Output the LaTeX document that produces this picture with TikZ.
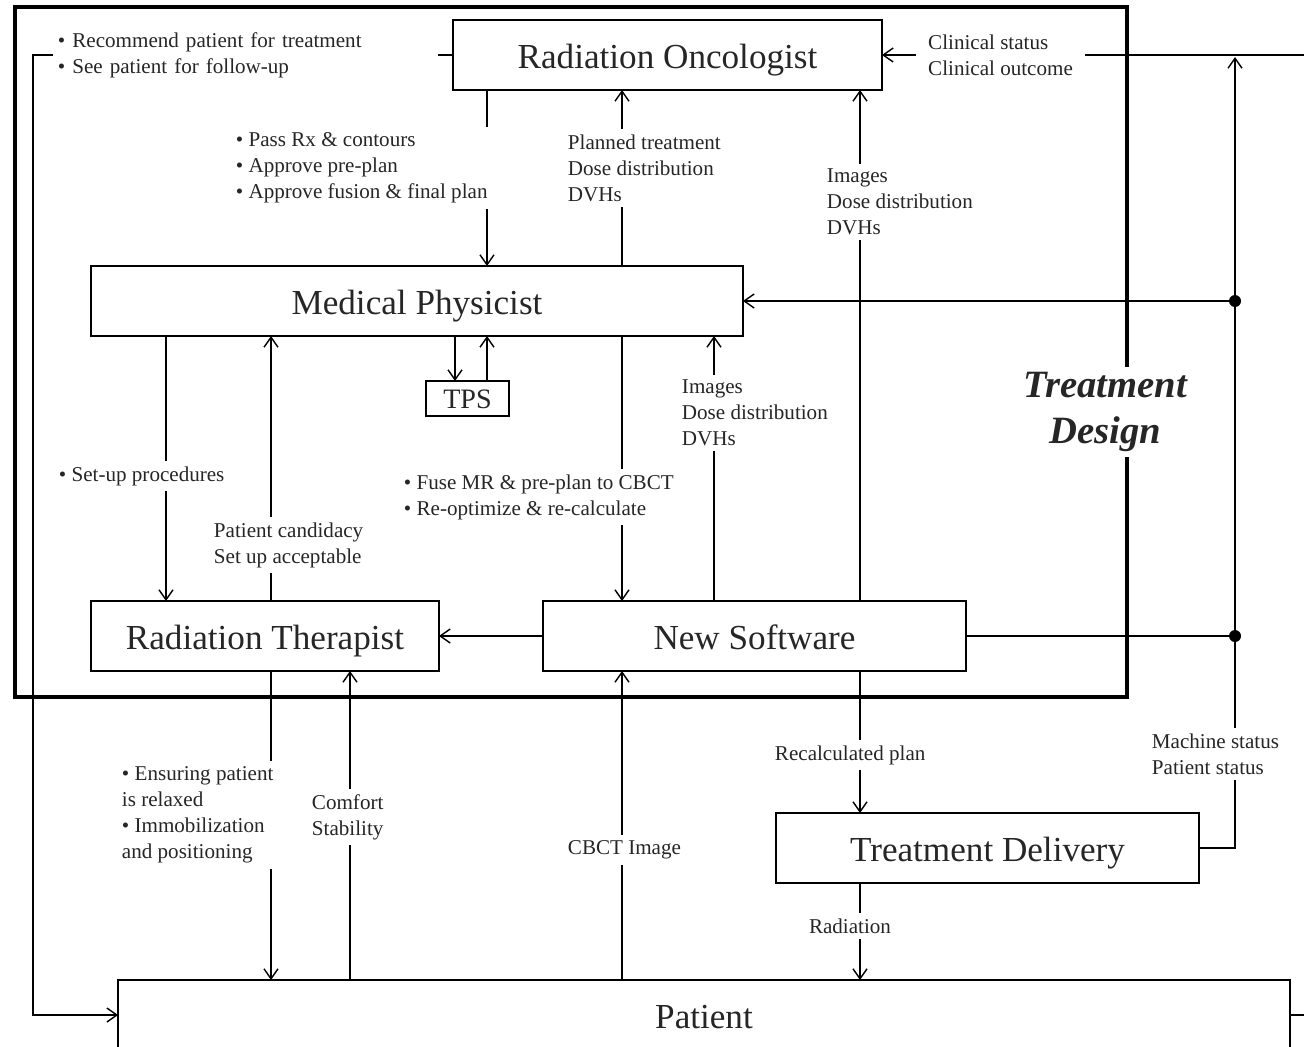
\documentclass[tikz,border=0pt]{standalone}
\usepackage{fontspec}
\setmainfont{Liberation Serif}
\usetikzlibrary{arrows.meta}

\begin{document}
\begin{tikzpicture}[x=0.02cm, y=-0.02cm, line width=0.8pt,
    box/.style={
      draw,
      minimum height=14mm,
      inner sep=0pt,
      outer sep=0pt,
      text height=17.5pt,
      text depth=2.6pt,
      font=\fontsize{20}{24}\selectfont
    },
    lbl/.style={
      fill=white,
      align=left,
      inner sep=3pt,
      font=\fontsize{12}{14.8}\selectfont
    },
    every node/.style={text=black!85},
    >={Straight Barb[length=2mm,width=2.8mm]}
  ]
    \useasboundingbox (0,0) rectangle (1304,1046);
    \draw[line width=2.4pt] (15,7) rectangle (1127,697);
    \node[box,minimum width=85.8mm] (onc) at (667.5,55) {Radiation Oncologist};
    \node[box,minimum width=130.4mm] (phys) at (417,301) {Medical Physicist};
    \node[box,minimum width=16.6mm,minimum height=7mm,text height=13.6pt,text depth=2pt,font=\fontsize{16}{19}\selectfont] (tps) at (467.5,398.5) {TPS};
    \node[box,minimum width=69.6mm] (ther) at (265,636) {Radiation Therapist};
    \node[box,minimum width=84.6mm] (soft) at (754.5,636) {New Software};
    \node[box,minimum width=84.6mm,line width=1.6pt] (deliv) at (987.5,848) {Treatment Delivery};
    \node[box,minimum width=234.4mm] (pat) at (704,1015) {Patient};
    \foreach \n/\x in {a/166,b/271,c/350,d/455,e/487,f/622,g/714,h/860}
      \coordinate (col\n) at (\x,0);
    \coordinate (bustop) at (1235,57);
    \coordinate (tap1) at (1235,301);
    \coordinate (tap2) at (1235,636);
    \coordinate (far) at (1320,55);
    \coordinate (back) at (33,500);
    \draw[->] (onc.south -| cole) -- (phys.north -| cole);
    \draw[->] (phys.north -| colf) -- (onc.south -| colf);
    \draw[->] (soft.north -| colh) -- (onc.south -| colh);
    \draw[->] (phys.south -| cold) -- (tps.north -| cold);
    \draw[->] (tps.north -| cole) -- (phys.south -| cole);
    \draw[->] (phys.south -| cola) -- (ther.north -| cola);
    \draw[->] (ther.north -| colb) -- (phys.south -| colb);
    \draw[->] (phys.south -| colf) -- (soft.north -| colf);
    \draw[->] (soft.north -| colg) -- (phys.south -| colg);
    \draw[->] (soft.west) -- (ther.east);
    \draw[->] (ther.south -| colb) -- (pat.north -| colb);
    \draw[->] (pat.north -| colc) -- (ther.south -| colc);
    \draw[->] (pat.north -| colf) -- (soft.south -| colf);
    \draw[->] (soft.south -| colh) -- (deliv.north -| colh);
    \draw[->] (deliv.south -| colh) -- (pat.north -| colh);
    \draw[->] (deliv.east) -| (bustop);
    \draw[->] (tap1) -- (phys.east);
    \draw (soft.east) -- (tap2);
    \fill (tap1) circle (1.2mm) (tap2) circle (1.2mm);
    \draw[->] (far) -- (onc.east);
    \draw[->] (onc.west) -| (back) |- (pat.west);
    \draw (pat.east) -- ++(40,0);
    \node[lbl,anchor=west,text width=75mm] (recom) at (52,55) {\textbullet{} Recommend patient  for treatment\\\textbullet{} See patient for follow-up};
    \node[lbl,anchor=west] (pass) at (230,168) {\textbullet{} Pass Rx \& contours\\\textbullet{} Approve pre-plan\\\textbullet{} Approve fusion \& final plan};
    \node[lbl,anchor=west] (plan) at (562,168) {Planned treatment\\Dose distribution\\DVHs};
    \node[lbl,anchor=west] (img1) at (821,202) {Images\\Dose distribution\\DVHs};
    \node[lbl,anchor=west,inner xsep=2.5mm] (clin) at (915,55) {Clinical  status\\Clinical  outcome};
    \node[lbl,anchor=west] (setup) at (53,476) {\textbullet{} Set-up procedures};
    \node[lbl,anchor=west] (cand) at (208,545) {Patient candidacy\\Set up acceptable};
    \node[lbl,anchor=west] (fuse) at (398,497) {\textbullet{} Fuse MR \& pre-plan to CBCT\\\textbullet{} Re-optimize  \& re-calculate};
    \node[lbl,anchor=west] (img2) at (676,413) {Images\\Dose distribution\\DVHs};
    \node[lbl,anchor=west] (ensure) at (116,815) {\textbullet{} Ensuring patient\\is relaxed\\\textbullet{} Immobilization\\and positioning};
    \node[lbl,anchor=west] (comf) at (306,817) {Comfort\\Stability};
    \node[lbl,anchor=west] (cbct) at (562,850) {CBCT Image};
    \node[lbl,anchor=west] (recalc) at (769,755) {Recalculated plan};
    \node[lbl,anchor=west] (mach) at (1146,754) {Machine status\\Patient status};
    \node[lbl] (rad) at (850,926) {Radiation};
    \node[lbl,align=center,font=\fontsize{22}{26}\selectfont\bfseries\itshape] (design) at (1105,412) {Treatment\\Design};
\end{tikzpicture}
\end{document}
